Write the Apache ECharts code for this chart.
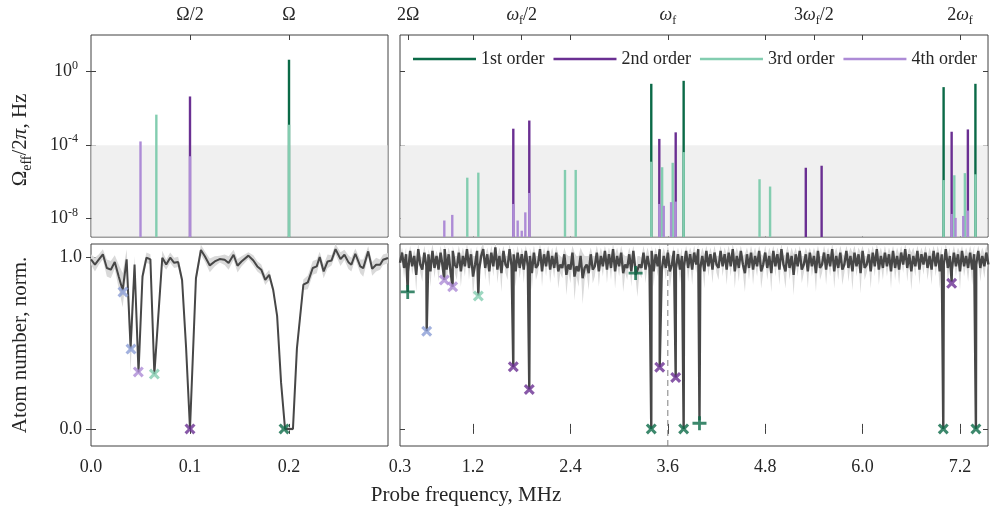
<!DOCTYPE html>
<html>
<head>
<meta charset="utf-8">
<script src="https://cdn.jsdelivr.net/npm/echarts@6/dist/echarts.min.js"></script>
<style>
  html, body { margin: 0; padding: 0; background: #fff; }
  #chart { width: 990px; height: 514px; }
</style>
</head>
<body>
<div id="chart"></div>
<script>
// ---------- data ----------
// top panels: effective Rabi frequency (Hz) of each resonance, per order
const order1Freq = [0.2, 3.396, 3.795, 6.998, 7.39];
const order1Amp = [4.5, 0.22, 0.32, 0.145, 0.22];
const order2Freq = [0.1, 1.696, 1.893, 3.495, 3.697, 5.30, 5.495, 7.097, 7.297];
const order2Amp = [0.045, 7.9e-4, 2.2e-3, 2.2e-4, 5e-4, 5.9e-6, 7.6e-6, 5.4e-4, 7.2e-4];
const order3Freq = [0.066, 0.2, 1.129, 1.265, 2.333, 2.465, 3.396, 3.53, 3.66, 3.795, 4.73, 4.86, 6.998, 7.13, 7.26, 7.39];
const order3Amp = [4.6e-3, 1.3e-3, 1.7e-6, 3.2e-6, 4.5e-6, 4.5e-6, 1.26e-5, 6.3e-6, 1.1e-5, 4.2e-5, 1.4e-6, 5.6e-7, 1.26e-6, 2.3e-6, 3e-6, 2.6e-6];
const order4Freq = [0.05, 0.1, 0.846, 0.944, 1.696, 1.75, 1.80, 1.844, 1.893, 3.495, 3.55, 3.64, 3.697, 7.097, 7.145, 7.24, 7.297];
const order4Amp = [1.6e-4, 2.5e-5, 7.9e-9, 1.6e-8, 6.3e-8, 7.9e-9, 2.2e-9, 2.2e-8, 2.5e-7, 6.3e-8, 5e-8, 7.9e-8, 8.5e-8, 1.8e-8, 1.1e-8, 1.4e-8, 2.75e-8];

// bottom left: atom number vs probe frequency (MHz), mean and spread
const leftFreq = [0.000, 0.004, 0.008, 0.012, 0.016, 0.020, 0.024, 0.028, 0.032, 0.036, 0.040, 0.044,
  0.048, 0.052, 0.056, 0.060, 0.064, 0.068, 0.072, 0.076, 0.080, 0.084, 0.088, 0.092, 0.096, 0.100,
  0.106, 0.111, 0.115, 0.120, 0.125, 0.130, 0.135, 0.139, 0.144, 0.148, 0.152, 0.159, 0.164, 0.168,
  0.172, 0.176, 0.180, 0.184, 0.188, 0.192, 0.196, 0.200, 0.204, 0.208, 0.2145, 0.219, 0.224, 0.228,
  0.231, 0.235, 0.239, 0.243, 0.247, 0.252, 0.256, 0.260, 0.263, 0.267, 0.272, 0.275, 0.280, 0.284,
  0.288, 0.292, 0.295, 0.300];
const leftMean = [0.99, 0.96, 0.99, 1.02, 0.94, 0.93, 0.975, 0.89, 0.81, 0.99, 0.47, 0.96,
  0.33, 0.89, 1.00, 0.99, 0.32, 0.66, 1.00, 0.96, 1.00, 0.97, 0.975, 0.87, 0.48, 0.00,
  0.88, 1.045, 1.008, 0.955, 0.978, 0.992, 0.988, 0.969, 1.017, 0.953, 0.978, 1.012, 0.984, 0.949,
  0.930, 0.871, 0.900, 0.813, 0.66, 0.27, 0.00, 0.00, 0.00, 0.47, 0.842, 0.856, 0.94, 0.949,
  1.004, 0.92, 0.978, 0.984, 1.05, 0.992, 1.017, 0.974, 0.959, 1.023, 0.949, 0.939, 1.037, 0.935,
  0.959, 0.959, 0.988, 0.998];
const leftErr = [0.03, 0.04, 0.03, 0.03, 0.05, 0.05, 0.04, 0.07, 0.10, 0.06, 0.14, 0.05,
  0.03, 0.04, 0.03, 0.03, 0.03, 0.04, 0.04, 0.03, 0.03, 0.03, 0.03, 0.03, 0.02, 0.01,
  0.03, 0.03, 0.03, 0.04, 0.03, 0.02, 0.03, 0.04, 0.03, 0.04, 0.03, 0.02, 0.03, 0.03,
  0.03, 0.03, 0.03, 0.02, 0.02, 0.02, 0.01, 0.01, 0.01, 0.03, 0.03, 0.04, 0.04, 0.04,
  0.03, 0.04, 0.04, 0.03, 0.03, 0.04, 0.03, 0.04, 0.04, 0.03, 0.04, 0.05, 0.03, 0.04,
  0.04, 0.03, 0.03, 0.03];

// bottom right: scan from 0.3 MHz in 0.025 MHz steps, plus the narrow loss features
const rightStart = 0.3;
const rightStep = 0.025;
const rightMean = [
  0.97, 1.03, 0.94, 1.02, 0.92, 1.04, 0.95, 1.01, 0.90, 1.05, 0.96, 0.93, 1.03, 0.95, 1.02, 0.92, 1.04, 0.94, 1.01, 0.93,
  1.03, 0.95, 1.05, 0.93, 1.02, 0.91, 1.04, 0.96, 0.94, 1.03, 0.92, 1.01, 0.95, 1.05, 0.94, 1.02, 0.89, 0.96, 1.04, 0.93,
  1.01, 1.05, 0.94, 1.02, 0.92, 1.03, 0.95, 1.06, 0.93, 1.01, 0.91, 1.04, 0.96, 0.94, 1.05, 0.95, 1.02, 0.92, 1.03, 0.94,
  1.02, 0.93, 1.04, 0.95, 1.01, 0.91, 1.03, 0.94, 0.96, 1.05, 0.92, 1.02, 0.95, 1.04, 0.93, 1.01, 0.94, 1.03, 0.92, 0.96,
  0.94, 1.02, 0.90, 0.96, 0.93, 1.03, 0.89, 0.95, 0.92, 1.01, 0.88, 0.94, 0.96, 0.91, 1.02, 0.93, 0.95, 1.03, 0.92, 1.01,
  0.95, 1.04, 0.93, 1.02, 0.94, 1.05, 0.92, 1.01, 0.95, 1.03, 0.91, 0.96, 0.94, 1.02, 0.92, 1.04, 0.93, 0.89, 0.96, 0.94,
  1.03, 0.93, 1.01, 0.94, 1.04, 0.92, 1.02, 0.95, 1.05, 0.93, 1.01, 0.94, 1.03, 0.92, 0.96, 1.04, 0.94, 1.02, 0.93, 1.01,
  0.95, 1.04, 0.94, 1.02, 0.93, 1.03, 0.96, 1.05, 0.94, 1.01, 0.92, 1.04, 0.95, 1.02, 0.93, 1.03, 0.96, 0.94, 1.04, 0.95,
  1.02, 0.93, 1.03, 0.95, 1.05, 0.92, 1.01, 0.94, 1.04, 0.96, 0.91, 1.02, 0.94, 1.03, 0.93, 1.01, 0.95, 1.04, 0.92, 0.96,
  1.03, 0.94, 1.01, 0.91, 1.04, 0.95, 1.02, 0.93, 1.05, 0.96, 0.92, 1.03, 0.94, 1.01, 0.90, 1.02, 0.95, 1.04, 0.93, 0.96,
  1.02, 0.92, 1.03, 0.95, 1.01, 0.91, 1.04, 0.94, 0.96, 1.03, 0.93, 1.02, 0.95, 1.05, 0.92, 1.01, 0.94, 1.03, 0.93, 0.96,
  1.04, 0.94, 1.01, 0.92, 1.03, 0.95, 1.02, 0.91, 1.04, 0.94, 0.96, 1.02, 0.92, 1.03, 0.95, 1.05, 0.93, 1.01, 0.94, 1.03,
  0.95, 1.02, 0.92, 1.04, 0.94, 1.01, 0.93, 1.03, 0.96, 1.05, 0.94, 1.02, 0.92, 1.01, 0.95, 1.04, 0.93, 1.02, 0.96, 1.03,
  0.94, 1.01, 0.93, 1.04, 0.95, 1.03, 0.92, 1.02, 0.96, 1.05, 0.94, 1.01, 0.93, 1.03, 0.95, 1.02, 0.92, 1.04, 0.95, 1.01,
  0.94, 1.03, 0.93, 1.02, 0.96, 1.04, 0.94, 1.01, 0.95, 1.03, 0.96];
const rightErr = [
  0.04, 0.03, 0.06, 0.04, 0.08, 0.03, 0.05, 0.04, 0.10, 0.03, 0.05, 0.07, 0.04, 0.05, 0.03, 0.09, 0.04, 0.06, 0.03, 0.07,
  0.04, 0.06, 0.03, 0.08, 0.04, 0.10, 0.03, 0.05, 0.07, 0.04, 0.09, 0.05, 0.06, 0.03, 0.07, 0.04, 0.12, 0.05, 0.03, 0.08,
  0.05, 0.03, 0.07, 0.04, 0.09, 0.04, 0.06, 0.03, 0.08, 0.05, 0.11, 0.03, 0.05, 0.07, 0.03, 0.06, 0.04, 0.09, 0.04, 0.06,
  0.04, 0.08, 0.03, 0.06, 0.05, 0.10, 0.04, 0.07, 0.05, 0.03, 0.09, 0.04, 0.06, 0.03, 0.08, 0.05, 0.06, 0.04, 0.10, 0.05,
  0.06, 0.04, 0.12, 0.05, 0.08, 0.04, 0.14, 0.06, 0.09, 0.05, 0.15, 0.07, 0.05, 0.10, 0.04, 0.08, 0.06, 0.04, 0.09, 0.05,
  0.06, 0.03, 0.08, 0.04, 0.07, 0.03, 0.10, 0.05, 0.06, 0.04, 0.11, 0.05, 0.07, 0.04, 0.09, 0.03, 0.07, 0.12, 0.05, 0.06,
  0.04, 0.08, 0.05, 0.07, 0.03, 0.09, 0.04, 0.06, 0.03, 0.08, 0.05, 0.07, 0.04, 0.10, 0.05, 0.03, 0.07, 0.04, 0.08, 0.05,
  0.06, 0.03, 0.08, 0.04, 0.09, 0.04, 0.05, 0.03, 0.07, 0.05, 0.10, 0.03, 0.06, 0.04, 0.08, 0.04, 0.05, 0.07, 0.03, 0.06,
  0.04, 0.09, 0.04, 0.06, 0.03, 0.10, 0.05, 0.08, 0.03, 0.05, 0.11, 0.04, 0.07, 0.04, 0.09, 0.05, 0.06, 0.03, 0.10, 0.05,
  0.04, 0.07, 0.05, 0.11, 0.03, 0.06, 0.04, 0.09, 0.03, 0.05, 0.10, 0.04, 0.07, 0.05, 0.12, 0.04, 0.06, 0.03, 0.08, 0.05,
  0.04, 0.10, 0.03, 0.06, 0.05, 0.11, 0.03, 0.07, 0.05, 0.04, 0.09, 0.04, 0.06, 0.03, 0.10, 0.05, 0.07, 0.04, 0.09, 0.05,
  0.03, 0.08, 0.05, 0.11, 0.04, 0.06, 0.04, 0.12, 0.03, 0.07, 0.05, 0.04, 0.10, 0.04, 0.06, 0.03, 0.09, 0.05, 0.07, 0.04,
  0.06, 0.04, 0.10, 0.03, 0.07, 0.05, 0.09, 0.04, 0.05, 0.03, 0.08, 0.04, 0.11, 0.05, 0.06, 0.03, 0.09, 0.04, 0.06, 0.04,
  0.07, 0.05, 0.09, 0.03, 0.06, 0.04, 0.10, 0.05, 0.06, 0.03, 0.08, 0.05, 0.09, 0.04, 0.06, 0.04, 0.11, 0.03, 0.06, 0.05,
  0.08, 0.04, 0.09, 0.05, 0.06, 0.03, 0.08, 0.05, 0.07, 0.04, 0.05];
const dipFreq = [0.395, 0.629, 0.846, 0.949, 1.265, 1.696, 1.893, 3.203, 3.396, 3.50, 3.697, 3.795, 3.99, 6.994, 7.097, 7.396];
const dipMean = [0.80, 0.57, 0.87, 0.83, 0.78, 0.36, 0.23, 0.90, 0.00, 0.36, 0.30, 0.00, 0.05, 0.00, 0.86, 0.00];
const driveFreq = 3.6;

// identified resonances: x markers (kind 1-4 = order, 5 = unassigned) and + markers
const crossFreq = [0.0323, 0.0404, 0.0478, 0.064, 0.1, 0.195, 0.629, 0.846, 0.949, 1.265, 1.696, 1.893, 3.396, 3.50, 3.697, 3.795, 6.994, 7.097, 7.396];
const crossVal = [0.80, 0.466, 0.333, 0.32, 0.0, 0.0, 0.57, 0.87, 0.83, 0.776, 0.363, 0.23, 0.0, 0.36, 0.30, 0.0, 0.0, 0.85, 0.0];
const crossKind = [5, 5, 4, 3, 2, 1, 5, 4, 4, 3, 2, 2, 1, 2, 2, 1, 1, 2, 1];
const plusFreq = [0.395, 3.203, 3.99];
const plusVal = [0.80, 0.91, 0.033];

// tick labels
const leftTopVals = [0.1, 0.2];
const leftTopText = ['{a|Ω/2}', '{a|Ω}'];
const rightTopVals = [0.4, 1.8, 3.6, 5.4, 7.2];
const rightTopText = ['{a|2Ω}', '{i|ω}{s|f}{a|/2}', '{i|ω}{s|f}', '{a|3}{i|ω}{s|f}{a|/2}', '{a|2}{i|ω}{s|f}'];
const leftBottomVals = [0.0, 0.1, 0.2];
const rightBottomVals = [0.3, 1.2, 2.4, 3.6, 4.8, 6.0, 7.2];
const rightTopTicks = [0.4, 1.2, 1.8, 2.4, 3.6, 4.8, 5.4, 6.0, 7.2];
const logVals = [1e-8, 1e-4, 1];

// ---------- styling ----------
const FONT = 'Liberation Serif';
const INK = '#262626';
const AX = '#404040';
const orderColor = { 1: '#0b6a47', 2: '#6a2f92', 3: '#83cdb0', 4: '#ad8bd6', 5: '#8b9ed6' };
const orderName = { 1: '1st order', 2: '2nd order', 3: '3rd order', 4: '4th order' };
const RICH = {
  a: { fontFamily: FONT, fontSize: 18, color: INK, lineHeight: 24 },
  i: { fontFamily: FONT, fontSize: 18, fontStyle: 'italic', color: INK, lineHeight: 24 },
  s: { fontFamily: FONT, fontSize: 12, color: INK, lineHeight: 12, verticalAlign: 'bottom' },
  p: { fontFamily: FONT, fontSize: 12, color: INK, lineHeight: 12, verticalAlign: 'top' },
  n: { fontFamily: FONT, fontSize: 18, color: INK, lineHeight: 24 }
};
const CROSS = 'path://M2,0 L5,3 L8,0 L10,2 L7,5 L10,8 L8,10 L5,7 L2,10 L0,8 L3,5 L0,2 Z';
const PLUS = 'path://M4,0 H6 V4 H10 V6 H6 V10 H4 V6 H0 V4 H4 Z';

const LOGMIN = 1e-9, LOGMAX = 100;
const XL = [0, 0.3], XR = [0.3, 7.545];
const YB = [-0.1, 1.08];

function pick(vals, texts) {
  return function (v) {
    let best = 0;
    vals.forEach((x, i) => { if (Math.abs(x - v) < Math.abs(vals[best] - v)) best = i; });
    return texts[best];
  };
}

function xAxis(gridIndex, position, range, ticks, labelVals, labelFn) {
  return {
    type: 'value', gridIndex, position, min: range[0], max: range[1],
    axisLine: { show: false }, splitLine: { show: false },
    axisTick: { show: true, inside: true, length: 5, lineStyle: { color: AX }, customValues: ticks },
    axisLabel: labelVals ? {
      customValues: labelVals, formatter: labelFn, margin: position === 'top' ? 8 : 12,
      rich: RICH, fontFamily: FONT, fontSize: 18, color: INK
    } : { show: false }
  };
}

function yAxis(gridIndex, position, isLog, ticks, labelFn) {
  const ax = {
    type: isLog ? 'log' : 'value', gridIndex, position,
    min: isLog ? LOGMIN : YB[0], max: isLog ? LOGMAX : YB[1],
    axisLine: { show: false }, splitLine: { show: false },
    axisTick: { show: true, inside: true, length: 5, lineStyle: { color: AX }, customValues: ticks },
    axisLabel: labelFn ? {
      customValues: ticks, formatter: labelFn, margin: isLog ? 13 : 9,
      rich: RICH, fontFamily: FONT, fontSize: 18, color: INK
    } : { show: false }
  };
  if (isLog) ax.logBase = 10;
  return ax;
}

function logLabel(v) {
  const e = Math.round(Math.log10(v));
  return '{n|10}{p|' + (e < 0 ? '-' : '') + Math.abs(e) + '}';
}

// grey shading below 1e-4 Hz
function shade(xi, yi, range) {
  return {
    type: 'custom', xAxisIndex: xi, yAxisIndex: yi, silent: true, clip: true,
    data: [[range[0], 1e-5]],
    renderItem: function (params, api) {
      const a = api.coord([range[0], 1e-4]);
      const b = api.coord([range[1], LOGMIN]);
      return { type: 'rect', shape: { x: a[0] + 0.5, y: a[1], width: b[0] - a[0] - 1, height: b[1] - a[1] - 0.5 },
        style: { fill: '#f0f0f0' } };
    }
  };
}

function stems(order, freq, amp, xi, yi, inLeft) {
  const data = [];
  freq.forEach((f, i) => { if ((f <= 0.3) === inLeft) data.push([f, amp[i]]); });
  const color = orderColor[order];
  return {
    name: orderName[order], type: 'custom', xAxisIndex: xi, yAxisIndex: yi, silent: true,
    itemStyle: { color },
    data,
    renderItem: function (params, api) {
      const top = api.coord([api.value(0), api.value(1)]);
      const bot = api.coord([api.value(0), LOGMIN]);
      return { type: 'line', shape: { x1: top[0], y1: top[1], x2: bot[0], y2: bot[1] },
        style: { stroke: color, lineWidth: 2.4 } };
    }
  };
}

function band(pts, xi, yi, fill) {
  return {
    type: 'custom', xAxisIndex: xi, yAxisIndex: yi, silent: true, clip: true,
    data: [[pts[0][0], pts[0][1]]],
    renderItem: function (params, api) {
      const up = pts.map(p => api.coord([p[0], p[1] + p[2]]));
      const lo = pts.map(p => api.coord([p[0], p[1] - p[2]])).reverse();
      return { type: 'polygon', shape: { points: up.concat(lo) }, style: { fill } };
    }
  };
}

function trace(pts, xi, yi, width) {
  return {
    type: 'line', xAxisIndex: xi, yAxisIndex: yi, silent: true, showSymbol: false,
    data: pts.map(p => [p[0], p[1]]),
    lineStyle: { color: '#474747', width }
  };
}

function markers(inLeft, xi, yi) {
  const xs = [], ps = [];
  crossFreq.forEach((f, i) => {
    if ((f <= 0.3) === inLeft) xs.push({ value: [f, crossVal[i]], itemStyle: { color: orderColor[crossKind[i]] } });
  });
  plusFreq.forEach((f, i) => {
    if ((f <= 0.3) === inLeft) ps.push({ value: [f, plusVal[i]], itemStyle: { color: orderColor[1] } });
  });
  return [
    { type: 'scatter', xAxisIndex: xi, yAxisIndex: yi, silent: true, z: 5, symbol: CROSS, symbolSize: 11, data: xs },
    { type: 'scatter', xAxisIndex: xi, yAxisIndex: yi, silent: true, z: 5, symbol: PLUS, symbolSize: 14, data: ps }
  ];
}

// ---------- build bottom traces ----------
const leftPts = leftFreq.map((f, i) => [f, leftMean[i], leftErr[i]]);
const rightPts = rightMean.map((v, i) => [+(rightStart + i * rightStep).toFixed(3), v, rightErr[i]]);
dipFreq.forEach((f, i) => rightPts.push([f, dipMean[i], 0.02]));
rightPts.sort((a, b) => a[0] - b[0]);

const fmt1 = v => v.toFixed(1);

const chart = echarts.init(document.getElementById('chart'));
chart.setOption({
  animation: false,
  backgroundColor: '#fff',
  grid: [
    { left: 91, top: 35, width: 297, height: 202 },
    { left: 400, top: 35, width: 588, height: 202 },
    { left: 91, top: 244, width: 297, height: 202 },
    { left: 400, top: 244, width: 588, height: 202 }
  ].map(g => Object.assign(g, { show: true, borderColor: AX, borderWidth: 1, backgroundColor: 'transparent' })),
  xAxis: [
    xAxis(0, 'bottom', XL, [0.1, 0.2]),
    xAxis(0, 'top', XL, leftTopVals, leftTopVals, pick(leftTopVals, leftTopText)),
    xAxis(1, 'bottom', XR, rightBottomVals.slice(1)),
    xAxis(1, 'top', XR, rightTopTicks, rightTopVals, pick(rightTopVals, rightTopText)),
    xAxis(2, 'bottom', XL, [0.1, 0.2], leftBottomVals, fmt1),
    xAxis(2, 'top', XL, [0.1, 0.2]),
    xAxis(3, 'bottom', XR, rightBottomVals.slice(1), rightBottomVals, fmt1),
    xAxis(3, 'top', XR, rightBottomVals.slice(1))
  ],
  yAxis: [
    yAxis(0, 'left', true, logVals, logLabel),
    yAxis(0, 'right', true, logVals),
    yAxis(1, 'left', true, logVals),
    yAxis(1, 'right', true, logVals),
    yAxis(2, 'left', false, [0, 1], fmt1),
    yAxis(2, 'right', false, [0, 1]),
    yAxis(3, 'left', false, [0, 1]),
    yAxis(3, 'right', false, [0, 1])
  ],
  legend: {
    data: ['1st order', '2nd order', '3rd order', '4th order'],
    left: 408, top: 45, icon: 'rect', itemWidth: 63, itemHeight: 2.5, itemGap: 9,
    selectedMode: false,
    textStyle: { fontFamily: FONT, fontSize: 18, color: INK }
  },
  graphic: [
    { type: 'text', x: 466, y: 495, silent: true,
      style: { text: 'Probe frequency, MHz', fontFamily: FONT, fontSize: 21, fill: INK, align: 'center', verticalAlign: 'middle' } },
    { type: 'text', x: 20, y: 345, rotation: Math.PI / 2, silent: true,
      style: { text: 'Atom number, norm.', fontFamily: FONT, fontSize: 21, fill: INK, align: 'center', verticalAlign: 'middle' } },
    { type: 'text', x: 20, y: 140, rotation: Math.PI / 2, silent: true,
      style: {
        text: '{a|Ω}{s|eff}{a|/2}{i|π}{a|, Hz}', align: 'center', verticalAlign: 'middle',
        rich: {
          a: { fontFamily: FONT, fontSize: 21, fill: INK, lineHeight: 28 },
          i: { fontFamily: FONT, fontSize: 21, fontStyle: 'italic', fill: INK, lineHeight: 28 },
          s: { fontFamily: FONT, fontSize: 14, fill: INK, lineHeight: 14, verticalAlign: 'bottom' }
        }
      } }
  ],
  series: [
    shade(0, 0, XL),
    shade(2, 2, XR),
    stems(1, order1Freq, order1Amp, 0, 0, true),
    stems(2, order2Freq, order2Amp, 0, 0, true),
    stems(3, order3Freq, order3Amp, 0, 0, true),
    stems(4, order4Freq, order4Amp, 0, 0, true),
    stems(1, order1Freq, order1Amp, 2, 2, false),
    stems(2, order2Freq, order2Amp, 2, 2, false),
    stems(3, order3Freq, order3Amp, 2, 2, false),
    stems(4, order4Freq, order4Amp, 2, 2, false),
    // drive frequency marker
    { type: 'line', xAxisIndex: 6, yAxisIndex: 6, silent: true, showSymbol: false,
      data: [[driveFreq, YB[0]], [driveFreq, YB[1]]],
      lineStyle: { color: '#7f7f7f', width: 1, type: [6, 4] } },
    band(leftPts, 4, 4, '#d9d9d9'),
    band(rightPts, 6, 6, '#d9d9d9'),
    trace(leftPts, 4, 4, 2),
    trace(rightPts, 6, 6, 2.4)
  ].concat(markers(true, 4, 4), markers(false, 6, 6))
});
</script>
</body>
</html>
